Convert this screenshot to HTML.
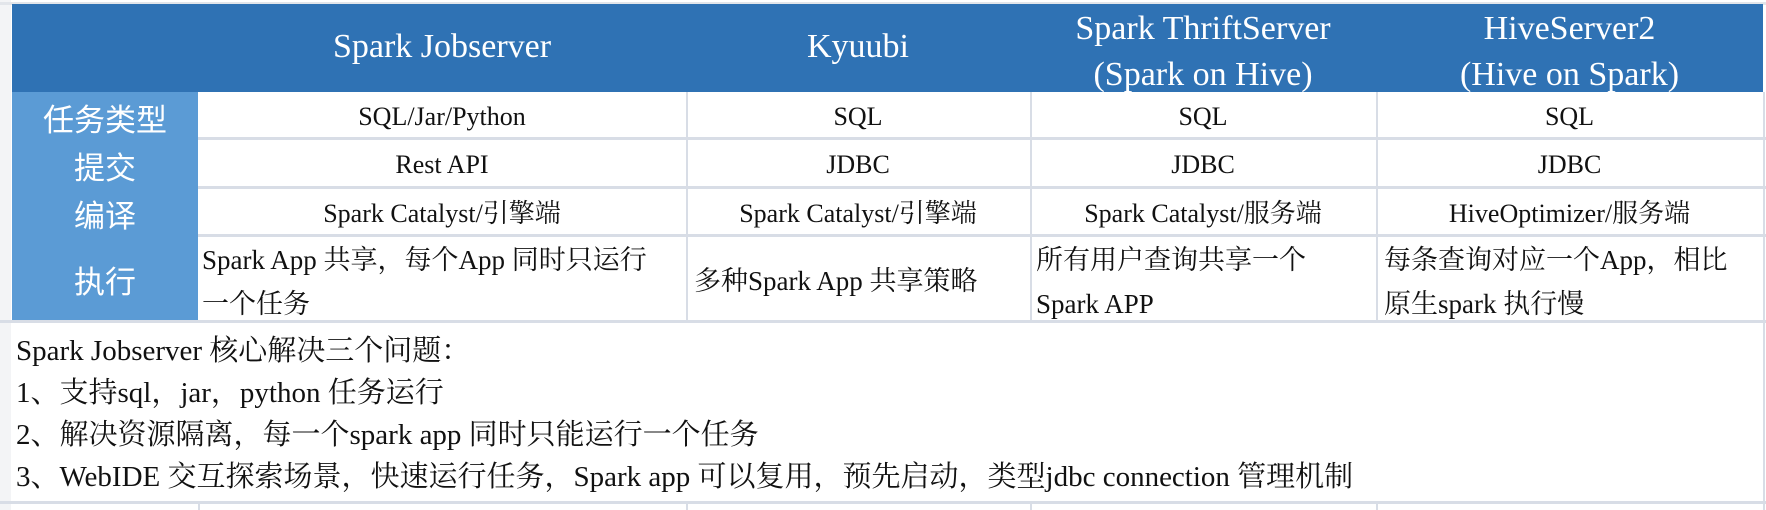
<!DOCTYPE html>
<html><head><meta charset="utf-8"><style>
body{margin:0;width:1766px;height:510px;background:#fff;position:relative;overflow:hidden;font-family:"Liberation Serif","Noto Serif CJK SC",serif;color:#111}
.a{position:absolute}
.h{background:#2f72b4}
.l{background:#5b9bd5}
.vl{position:absolute;width:2px;background:#d8dde6}
.hl{position:absolute;height:3px;background:#d8dde6}
.ht{position:absolute;color:#fff;font-size:34px;text-align:center;line-height:46px;white-space:nowrap}
.lt{position:absolute;color:#fff;font-size:31px;text-align:center;width:186px;left:12px;font-family:"Noto Sans CJK SC",sans-serif}
.c{position:absolute;font-size:26px;text-align:center;white-space:nowrap;line-height:30px}
.m{position:absolute;font-size:27px;line-height:44px;white-space:nowrap}
</style></head><body>
<div class="a" style="left:0;top:0;width:11px;height:510px;background:#f3f4f6"></div>
<div class="hl" style="left:0;top:2px;width:1766px;background:#e2e5ea"></div>
<div class="a h" style="left:12px;top:4px;width:1751px;height:88px"></div>
<div class="a l" style="left:12px;top:92px;width:186px;height:230px"></div>
<div class="hl" style="left:198px;top:137px;width:1568px"></div>
<div class="hl" style="left:198px;top:186px;width:1568px"></div>
<div class="hl" style="left:198px;top:234px;width:1568px"></div>
<div class="hl" style="left:0;top:320px;width:1766px"></div>
<div class="hl" style="left:0;top:501px;width:1766px"></div>
<div class="vl" style="left:686px;top:92px;height:230px"></div>
<div class="vl" style="left:1030px;top:92px;height:230px"></div>
<div class="vl" style="left:1376px;top:92px;height:230px"></div>
<div class="vl" style="left:1763px;top:92px;height:418px"></div>
<div class="vl" style="left:198px;top:503px;height:7px"></div>
<div class="vl" style="left:686px;top:503px;height:7px"></div>
<div class="vl" style="left:1030px;top:503px;height:7px"></div>
<div class="vl" style="left:1376px;top:503px;height:7px"></div>
<div class="ht" style="left:198px;width:488px;top:24px">Spark Jobserver</div>
<div class="ht" style="left:686px;width:344px;top:24px">Kyuubi</div>
<div class="ht" style="left:1030px;width:346px;top:6px">Spark ThriftServer<br>(Spark on Hive)</div>
<div class="ht" style="left:1376px;width:387px;top:6px">HiveServer2<br>(Hive on Spark)</div>
<div class="lt" style="top:95px">任务类型</div>
<div class="lt" style="top:143px">提交</div>
<div class="lt" style="top:191px">编译</div>
<div class="lt" style="top:257px">执行</div>
<div class="c" style="left:198px;width:488px;top:102px">SQL/Jar/Python</div>
<div class="c" style="left:686px;width:344px;top:102px">SQL</div>
<div class="c" style="left:1030px;width:346px;top:102px">SQL</div>
<div class="c" style="left:1376px;width:387px;top:102px">SQL</div>
<div class="c" style="left:198px;width:488px;top:150px">Rest API</div>
<div class="c" style="left:686px;width:344px;top:150px">JDBC</div>
<div class="c" style="left:1030px;width:346px;top:150px">JDBC</div>
<div class="c" style="left:1376px;width:387px;top:150px">JDBC</div>
<div class="c" style="left:198px;width:488px;top:199px">Spark Catalyst/引擎端</div>
<div class="c" style="left:686px;width:344px;top:199px">Spark Catalyst/引擎端</div>
<div class="c" style="left:1030px;width:346px;top:199px">Spark Catalyst/服务端</div>
<div class="c" style="left:1376px;width:387px;top:199px">HiveOptimizer/服务端</div>
<div class="m" style="left:202px;top:238px">Spark App 共享，每个App 同时只运行<br>一个任务</div>
<div class="m" style="left:694px;top:259px">多种Spark App 共享策略</div>
<div class="m" style="left:1036px;top:238px">所有用户查询共享一个<br>Spark APP</div>
<div class="m" style="left:1384px;top:238px">每条查询对应一个App，相比<br>原生spark 执行慢</div>
<div class="m" style="left:16px;top:330px;line-height:42px;font-size:29px">Spark Jobserver 核心解决三个问题：<br>1、支持sql，jar，python 任务运行<br>2、解决资源隔离，每一个spark app 同时只能运行一个任务<br>3、WebIDE 交互探索场景，快速运行任务，Spark app 可以复用，预先启动，类型jdbc connection 管理机制</div>
</body></html>
